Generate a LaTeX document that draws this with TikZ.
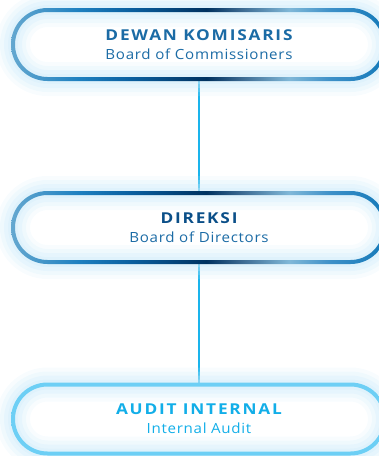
\documentclass[tikz,border=0pt]{standalone}
\usepackage{fontspec}
\setmainfont{Open Sans}
\newfontfamily\titlefont[FakeStretch=1.15, LetterSpace=12]{Open Sans Bold}
\newfontfamily\subfont[FakeStretch=1.08, LetterSpace=5]{Open Sans}
\definecolor{linkblue}{HTML}{1AB4EC}
\definecolor{glowblue}{HTML}{CDEBFA}
\definecolor{navy}{HTML}{0B4F88}
\definecolor{midblue}{HTML}{1B6BA5}
\definecolor{skyblue}{HTML}{6DCFF5}
\definecolor{cyantext}{HTML}{12AEE8}
\pgfdeclarehorizontalshading{ringdark}{100bp}{%
    color(0bp)=(rgb,255:red,100;green,168;blue,208);
    color(25bp)=(rgb,255:red,100;green,168;blue,208);
    color(34bp)=(rgb,255:red,30;green,128;blue,192);
    color(41bp)=(rgb,255:red,10;green,95;blue,159);
    color(51bp)=(rgb,255:red,0;green,50;blue,96);
    color(55.5bp)=(rgb,255:red,58;green,104;blue,144);
    color(62bp)=(rgb,255:red,128;green,184;blue,216);
    color(67.5bp)=(rgb,255:red,61;green,144;blue,200);
    color(75bp)=(rgb,255:red,18;green,120;blue,184);
    color(100bp)=(rgb,255:red,18;green,120;blue,184)}
\pgfdeclarehorizontalshading{ringsky}{100bp}{%
    color(0bp)=(skyblue); color(100bp)=(skyblue)}
\newcommand{\glowring}[2]{% node, shading
    \foreach \w/\o in {34/0.15, 26/0.2, 18/0.25, 10/0.3}
        \draw[glowblue, line width=\w pt, opacity=\o, rounded corners=34.5pt]
            (#1.south west) rectangle (#1.north east);
    \shade[shading=#2, even odd rule, rounded corners=36.5pt]
        ([shift={(-2pt,-2pt)}]#1.south west) rectangle ([shift={(2pt,2pt)}]#1.north east)
        [rounded corners=32.5pt]
        ([shift={(2pt,2pt)}]#1.south west) rectangle ([shift={(-2pt,-2pt)}]#1.north east)
}
\newcommand{\boxtext}[4]{% title, subtitle, title colour, subtitle colour
    {\titlefont\fontsize{15}{18}\selectfont\color{#3}#1}\\[7pt]
    {\subfont\fontsize{14}{17}\selectfont\color{#4}#2}
}
\tikzset{
    orgbox/.style={rectangle, minimum width=372pt, minimum height=69pt,
        outer sep=0pt, inner sep=0pt, align=center},
    link/.style={linkblue, line width=2.8pt}
}

\begin{document}
\begin{tikzpicture}[x=1pt, y=-1pt]
    \useasboundingbox (0,0) rectangle (379,456);
    \node[orgbox] (dk) at (199,44.5) {};
    \node[orgbox] (dir) at (199,227.5) {};
    \node[orgbox] (audit) at (199,419) {};
    \draw[link] (dk.south) -- (dir.north);
    \draw[link] (dir.south) -- (audit.north);
    \glowring{dk}{ringdark};
    \glowring{dir}{ringdark};
    \glowring{audit}{ringsky};
    \node[align=center] (dktext) at (dk.center)
        {\boxtext{DEWAN KOMISARIS}{Board of Commissioners}{midblue}{midblue}};
    \node[align=center] (dirtext) at (dir.center)
        {\boxtext{DIREKSI}{Board of Directors}{navy}{midblue}};
    \node[align=center] (audittext) at (audit.center)
        {\boxtext{AUDIT INTERNAL}{Internal Audit}{cyantext}{cyantext}};
\end{tikzpicture}
\end{document}
